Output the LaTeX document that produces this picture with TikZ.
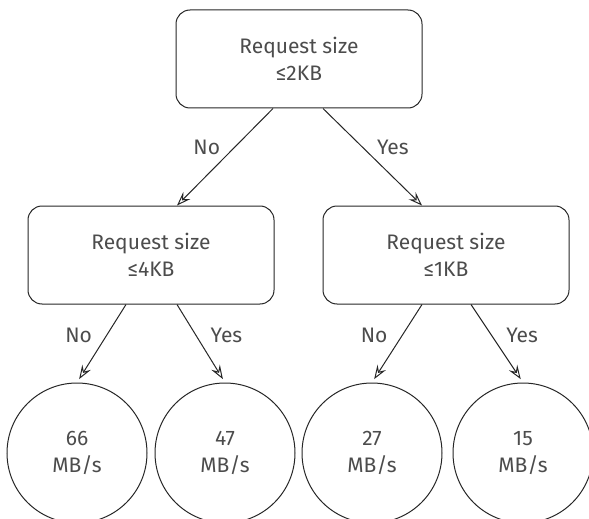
\documentclass[tikz,border=0pt]{standalone}
\usepackage{fontspec}
\setsansfont{Fira Sans}
\usetikzlibrary{arrows.meta,calc}

\begin{document}
\begin{tikzpicture}[
  x=0.5pt, y=-0.5pt,
  font=\sffamily\fontsize{10.5}{13.5}\selectfont,
  test/.style={draw=black!85, line width=0.5pt, rounded corners=7pt,
    minimum width=123pt, minimum height=49pt, inner sep=0pt,
    align=center, text=black!70},
  rate/.style={circle, draw=black!85, line width=0.5pt, minimum size=70pt,
    inner sep=0pt, align=center, text=black!70},
  branch/.style={black!85, line width=0.5pt,
    -{Stealth[open, length=7pt, width=5pt, inset=2.6pt]}},
  answer/.style={text=black!70, inner sep=0pt, pos=0.4}
]

% Page frame; circles run off the bottom edge.
\useasboundingbox (0,0) rectangle (589,519);
\clip (0,0) rectangle (589,519);

% Decision boxes.
\node[test] (root)  at (299,59)  {Request size\\≤2KB};
\node[test] (small) at (151,255) {Request size\\≤4KB};
\node[test] (tiny)  at (446,255) {Request size\\≤1KB};

% Leaf rates.
\node[rate] (r66) at (77,453)  {66\\MB/s};
\node[rate] (r47) at (225,453) {47\\MB/s};
\node[rate] (r27) at (372,453) {27\\MB/s};
\node[rate] (r15) at (523,453) {15\\MB/s};

% Branches.
\draw[branch] ($(root.south)+(-26,0)$) -- ($(small.north)+(26,0)$)
  node[answer, left=7pt] (rootno) {No};
\draw[branch] ($(root.south)+(24,0)$) -- ($(tiny.north)+(-24,0)$)
  node[answer, right=7pt] (rootyes) {Yes};

\draw[branch, shorten >=2pt] ($(small.south)+(-25,0)$) -- (r66.north)
  node[answer, left=7pt] (smallno) {No};
\draw[branch, shorten >=2pt] ($(small.south)+(26,0)$) -- (r47.north)
  node[answer, right=7pt] (smallyes) {Yes};

\draw[branch, shorten >=2pt] ($(tiny.south)+(-24,0)$) -- (r27.north)
  node[answer, left=7pt] (tinyno) {No};
\draw[branch, shorten >=2pt] ($(tiny.south)+(25,0)$) -- (r15.north)
  node[answer, right=7pt] (tinyyes) {Yes};

\end{tikzpicture}
\end{document}
